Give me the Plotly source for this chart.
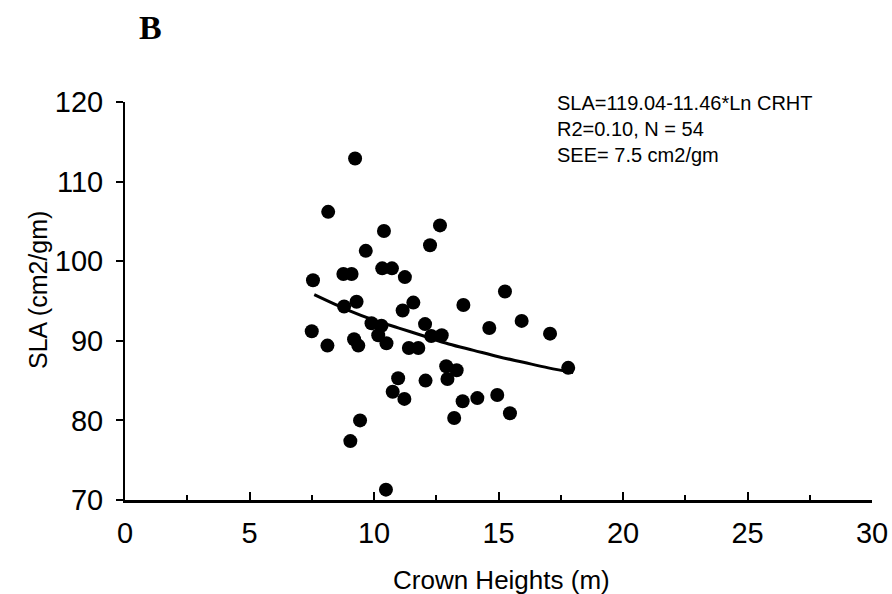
import plotly.graph_objects as go

# Scatter data (Crown height m, SLA cm2/gm)
crown_height = [9.24, 8.16, 12.65, 10.40, 12.25, 9.67, 8.77, 9.10, 10.33, 10.72,
                11.24, 7.55, 15.26, 9.30, 11.58, 8.80, 13.59, 11.15, 15.93, 9.90,
                10.30, 12.05, 14.63, 7.50, 17.07, 10.17, 12.30, 12.72, 9.20, 9.37,
                8.13, 10.50, 11.40, 11.78, 17.80, 12.90, 13.32, 12.95, 10.97, 12.07,
                10.75, 11.22, 13.56, 14.15, 14.95, 15.46, 13.22, 9.44, 9.05, 10.48]
sla = [112.9, 106.2, 104.5, 103.8, 102.0, 101.3, 98.4, 98.4, 99.1, 99.1,
       98.0, 97.6, 96.2, 94.9, 94.8, 94.3, 94.5, 93.8, 92.5, 92.2,
       91.9, 92.1, 91.6, 91.2, 90.9, 90.7, 90.6, 90.7, 90.2, 89.4,
       89.4, 89.7, 89.1, 89.1, 86.6, 86.8, 86.3, 85.2, 85.3, 85.0,
       83.6, 82.7, 82.4, 82.8, 83.2, 80.9, 80.3, 80.0, 77.4, 71.3]

# Fitted curve
fit_x = [7.6, 9, 10, 11, 12, 13, 14, 15, 16, 17, 18]
fit_y = [95.8, 93.8, 92.6, 91.6, 90.6, 89.6, 88.8, 88.0, 87.3, 86.6, 86.0]

x_ticks = [0, 5, 10, 15, 20, 25, 30]
y_ticks = [70, 80, 90, 100, 110, 120]

x_title = "Crown Heights (m)"
y_title = "SLA (cm2/gm)"
eq_lines = ["SLA=119.04-11.46*Ln CRHT", "R2=0.10, N = 54", "SEE= 7.5 cm2/gm"]

FONT = "Liberation Sans, Arial, sans-serif"

fig = go.Figure()
fig.add_trace(go.Scatter(x=fit_x, y=fit_y, mode="lines",
                         line=dict(color="black", width=3, shape="spline"),
                         showlegend=False, hoverinfo="skip"))
fig.add_trace(go.Scatter(x=crown_height, y=sla, mode="markers",
                         marker=dict(color="black", size=14, symbol="circle"),
                         showlegend=False))

fig.update_layout(
    width=892, height=594,
    margin=dict(l=125, r=20, t=102, b=94),
    paper_bgcolor="white", plot_bgcolor="white",
    font=dict(family=FONT, color="black"),
    xaxis=dict(range=[0, 30], tickvals=x_ticks, ticks="inside", ticklen=8, tickwidth=2,
               tickcolor="black", showline=True, linecolor="black", linewidth=3,
               showgrid=False, zeroline=False, tickfont=dict(size=29, family=FONT),
               ticklabelstandoff=5, automargin=False,
               minor=dict(dtick=2.5, ticks="inside", ticklen=5, tickwidth=2, tickcolor="black")),
    yaxis=dict(range=[70, 120], tickvals=y_ticks, ticks="outside", ticklen=7, tickwidth=2,
               tickcolor="black", showline=True, linecolor="black", linewidth=2,
               showgrid=False, zeroline=False, tickfont=dict(size=29, family=FONT),
               ticklabelstandoff=7, automargin=False),
)

fig.add_annotation(text=x_title, xref="paper", yref="paper",
                   x=(501 - 125) / 747, y=(500 - 580) / 398, xanchor="center", yanchor="middle",
                   showarrow=False, font=dict(size=26, family=FONT, color="black"))
fig.add_annotation(text=y_title, xref="paper", yref="paper", textangle=-90,
                   x=(38 - 125) / 747, y=(500 - 290) / 398, xanchor="center", yanchor="middle",
                   showarrow=False, font=dict(size=25, family=FONT, color="black"))
fig.add_annotation(text="<br>".join(eq_lines), xref="paper", yref="paper",
                   x=(555 - 125) / 747, y=1 + 12 / 398, xanchor="left", yanchor="top",
                   align="left", showarrow=False,
                   font=dict(size=20, family=FONT, color="black"))
fig.add_annotation(text="<b>B</b>", xref="paper", yref="paper",
                   x=(150 - 125) / 747, y=1 + 75 / 398, xanchor="center", yanchor="middle",
                   showarrow=False,
                   font=dict(size=34, family="Liberation Serif, Times New Roman, serif", color="black"))

fig.write_html("out.html")
